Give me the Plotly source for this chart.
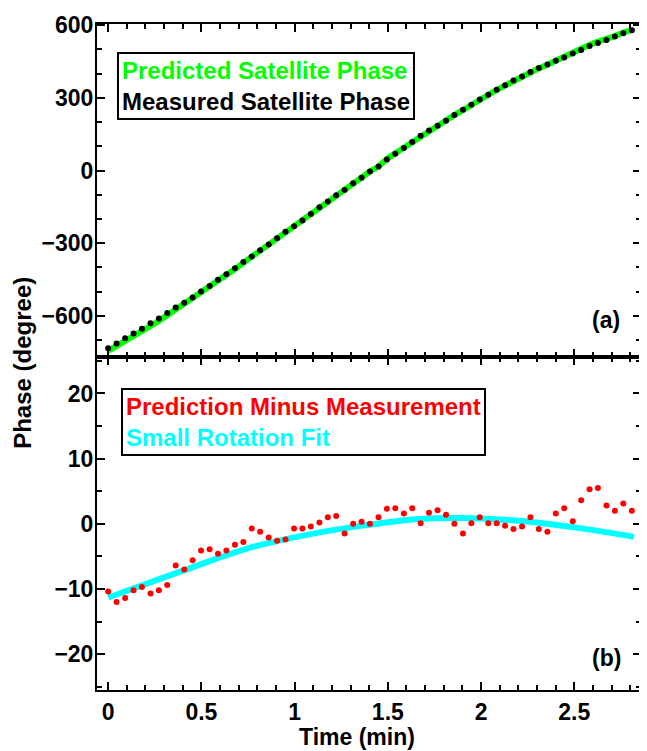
import plotly.graph_objects as go
from plotly.subplots import make_subplots

# sample times (min)
time_min = [0, 0.045, 0.091, 0.136, 0.181, 0.227, 0.272, 0.317, 0.362, 0.408,
            0.453, 0.498, 0.544, 0.589, 0.634, 0.680, 0.725, 0.770, 0.815, 0.861,
            0.906, 0.951, 0.997, 1.042, 1.087, 1.133, 1.178, 1.223, 1.268, 1.314,
            1.359, 1.404, 1.450, 1.495, 1.540, 1.586, 1.631, 1.676, 1.721, 1.767,
            1.812, 1.857, 1.903, 1.948, 1.993, 2.039, 2.084, 2.129, 2.174, 2.220,
            2.265, 2.310, 2.356, 2.401, 2.446, 2.492, 2.537, 2.582, 2.627, 2.673,
            2.718, 2.763, 2.809]

# panel (a): satellite phase (degree)
predicted_phase = [-745, -726, -705, -683, -663, -642, -621, -598, -573, -553,
                   -530, -504, -481, -456, -432, -407, -381, -356, -330, -307,
                   -283, -256, -231, -207, -181, -150, -127, -101, -82, -53,
                   -30, -4, 16, 48, 71, 94, 120, 144, 167, 187,
                   207, 229, 249, 272, 294, 313, 333, 352, 371, 387,
                   408, 422, 437, 454, 469, 483, 502, 519, 532, 542,
                   555, 570, 581]
measured_phase = [-734, -714, -693, -673, -653, -631, -611, -588, -566, -546,
                  -524, -500, -477, -451, -428, -404, -378, -355, -329, -305,
                  -280, -253, -230, -206, -180, -152, -128, -102, -80, -53,
                  -30, -4, 17, 45, 69, 93, 118, 144, 165, 185,
                  206, 229, 251, 272, 293, 313, 333, 352, 372, 388,
                  407, 423, 438, 453, 467, 483, 498, 514, 527, 539,
                  553, 567, 579]

# panel (b): prediction minus measurement (degree)
residual = [-10.4, -12.0, -11.4, -10.2, -9.7, -10.7, -10.2, -9.4, -6.4, -7.0,
            -5.6, -4.1, -3.9, -4.6, -4.1, -3.2, -2.8, -0.7, -1.2, -2.1,
            -2.6, -2.4, -0.7, -0.7, -0.4, 0.2, 1.0, 1.2, -1.5, 0.0,
            0.3, 0.0, 1.0, 2.3, 2.4, 1.6, 2.4, 0.1, 1.7, 2.1,
            1.4, 0.0, -1.5, 0.1, 1.0, 0.1, 0.1, -0.3, -0.8, -0.4,
            1.0, -0.8, -1.2, 1.6, 2.4, 0.4, 3.6, 5.3, 5.5, 2.8,
            2.0, 3.1, 2.0]

# small rotation fit
fit_time = [0, 0.39, 0.745, 1.10, 1.385, 1.65, 1.90, 2.185, 2.54, 2.82]
fit_value = [-11.3, -7.3, -3.8, -1.5, -0.2, 0.7, 0.9, 0.5, -0.7, -2.0]

FONT = "Liberation Sans"

fig = make_subplots(rows=2, cols=1, shared_xaxes=True, vertical_spacing=0)

fig.add_trace(go.Scatter(x=time_min, y=predicted_phase, mode="lines",
                         line=dict(color="#00ff00", width=6)), row=1, col=1)
fig.add_trace(go.Scatter(x=time_min, y=measured_phase, mode="markers",
                         marker=dict(color="black", size=6)), row=1, col=1)
fig.add_trace(go.Scatter(x=fit_time, y=fit_value, mode="lines",
                         line=dict(color="#00ffff", width=6, shape="spline")), row=2, col=1)
fig.add_trace(go.Scatter(x=time_min, y=residual, mode="markers",
                         marker=dict(color="#ff0000", size=6)), row=2, col=1)

axis_style = dict(showline=True, linecolor="black", linewidth=2, mirror="ticks",
                  ticks="inside", tickcolor="black", tickwidth=2, ticklen=8,
                  showgrid=False, zeroline=False, ticklabeloverflow="allow",
                  tickfont=dict(family=FONT, size=23, color="black", weight="bold"))

x_minor = dict(ticks="inside", dtick=0.1, ticklen=5, tickwidth=2, tickcolor="black", showgrid=False)
fig.update_xaxes(axis_style, range=[-0.06, 2.858], tick0=0, dtick=0.5, minor=x_minor)
fig.update_xaxes(showticklabels=False, row=1, col=1)

fig.update_yaxes(axis_style, range=[-770, 605], tick0=-600, dtick=300,
                 ticklabelstandoff=-3,
                 minor=dict(ticks="inside", dtick=100, ticklen=5, tickwidth=2,
                            tickcolor="black", showgrid=False),
                 row=1, col=1)
fig.update_yaxes(axis_style, range=[-25.5, 25.6], tick0=0, dtick=10,
                 ticklabelstandoff=-3,
                 minor=dict(ticks="inside", dtick=5, ticklen=5, tickwidth=2,
                            tickcolor="black", showgrid=False),
                 row=2, col=1)

bold = dict(family=FONT, size=24, weight="bold")

# legend boxes as annotations
fig.add_annotation(xref="paper", yref="paper", x=0.036, y=0.9585, xanchor="left", yanchor="top",
                   text="<span style='color:#00ff00'>Predicted Satellite Phase</span><br>"
                        "<span style='color:black'>Measured Satellite Phase</span>",
                   align="left", showarrow=False, font=bold,
                   bordercolor="black", borderwidth=2, borderpad=3, bgcolor="white")
fig.add_annotation(xref="paper", yref="paper", x=0.045, y=0.4533, xanchor="left", yanchor="top",
                   text="<span style='color:#ff0000'>Prediction Minus Measurement</span><br>"
                        "<span style='color:#00ffff'>Small Rotation Fit</span>",
                   align="left", showarrow=False, font=bold,
                   bordercolor="black", borderwidth=2, borderpad=3, bgcolor="white")

# panel labels
label_font = dict(family=FONT, size=23, weight="bold", color="black")
fig.add_annotation(xref="paper", yref="paper", x=0.936, y=0.5556, text="(a)",
                   xanchor="center", yanchor="middle", showarrow=False, font=label_font)
fig.add_annotation(xref="paper", yref="paper", x=0.936, y=0.0474, text="(b)",
                   xanchor="center", yanchor="middle", showarrow=False, font=label_font)

# axis titles
fig.add_annotation(xref="paper", yref="paper", x=-0.137, y=0.492, text="Phase (degree)",
                   textangle=-90, xanchor="center", yanchor="middle", showarrow=False,
                   font=dict(family=FONT, size=24, weight="bold", color="black"))
fig.add_annotation(xref="paper", yref="paper", x=0.478, y=-0.071, text="Time (min)",
                   xanchor="center", yanchor="middle", showarrow=False,
                   font=dict(family=FONT, size=23, weight="bold", color="black"))

# page body keeps its default 8px margin, so the figure is 8px smaller
fig.update_layout(width=639, height=743, showlegend=False,
                  plot_bgcolor="white", paper_bgcolor="white",
                  margin=dict(l=89, r=4, t=7, b=61))

fig.write_html("out.html")
